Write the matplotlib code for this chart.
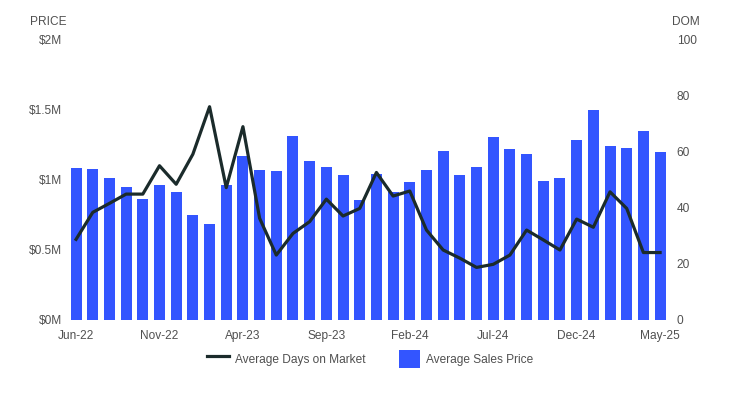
import matplotlib.pyplot as plt
from matplotlib.lines import Line2D
from matplotlib.patches import Patch

plt.rcParams['font.family'] = ['Liberation Sans', 'DejaVu Sans']

months = ['Jun-22', 'Jul-22', 'Aug-22', 'Sep-22', 'Oct-22', 'Nov-22', 'Dec-22', 'Jan-23', 'Feb-23',
          'Mar-23', 'Apr-23', 'May-23', 'Jun-23', 'Jul-23', 'Aug-23', 'Sep-23', 'Oct-23', 'Nov-23',
          'Dec-23', 'Jan-24', 'Feb-24', 'Mar-24', 'Apr-24', 'May-24', 'Jun-24', 'Jul-24', 'Aug-24',
          'Sep-24', 'Oct-24', 'Nov-24', 'Dec-24', 'Jan-25', 'Feb-25', 'Mar-25', 'Apr-25', 'May-25']

# average sales price, $M
price = [1.08, 1.075, 1.01, 0.95, 0.86, 0.96, 0.91, 0.75, 0.68,
         0.96, 1.17, 1.07, 1.06, 1.31, 1.13, 1.09, 1.03, 0.855,
         1.04, 0.91, 0.985, 1.07, 1.20, 1.03, 1.09, 1.30, 1.22,
         1.18, 0.99, 1.01, 1.28, 1.495, 1.24, 1.225, 1.345, 1.195]

# average days on market
dom = [28.7, 38.3, 41.5, 44.8, 44.8, 54.9, 48.3, 59.0, 75.9,
       47.1, 68.8, 36.2, 23.1, 30.8, 35.0, 43.0, 37.0, 39.7,
       52.5, 44.1, 45.9, 32.0, 24.9, 22.0, 18.7, 19.8, 23.1,
       32.0, 28.5, 24.9, 35.9, 33.0, 45.6, 39.7, 24.0, 24.0]

price_ticks = [0, 0.5, 1, 1.5, 2]
price_labels = ['$0M', '$0.5M', '$1M', '$1.5M', '$2M']
dom_ticks = [0, 20, 40, 60, 80, 100]

bar_color = '#3355ff'
line_color = '#1b2b2b'
text_color = '#505050'

fig = plt.figure(figsize=(7.29, 3.96), dpi=100)
ax = fig.add_axes([0.0929, 0.192, 0.824, 0.7095])
ax2 = ax.twinx()

x = list(range(len(months)))
ax.bar(x, price, width=0.66, color=bar_color, zorder=1)
ax2.plot(x, dom, color=line_color, lw=2.3, zorder=3)

ax.set_xlim(-0.5, len(months) - 0.5)
ax.set_ylim(0, 2)
ax2.set_ylim(0, 100)
ax.set_yticks(price_ticks, price_labels)
ax2.set_yticks(dom_ticks)
ax.set_xticks(x[::5], months[::5])

for a in (ax, ax2):
    for s in a.spines.values():
        s.set_visible(False)
    a.tick_params(length=0, labelsize=8.6, colors=text_color)
ax.tick_params(axis='y', pad=4)
ax2.tick_params(axis='y', pad=6)
ax.tick_params(axis='x', pad=7)

fig.text(48 / 729, 1 - 22 / 396, 'PRICE', fontsize=8.6, color=text_color, ha='center', va='center')
fig.text(686 / 729, 1 - 22 / 396, 'DOM', fontsize=8.6, color=text_color, ha='center', va='center')

handles = [Line2D([0], [0], color=line_color, lw=2.3),
           Patch(facecolor=bar_color)]
fig.legend(handles, ['Average Days on Market', 'Average Sales Price'],
           loc='center', bbox_to_anchor=(0.508, 1 - 359 / 396), ncol=2, frameon=False,
           fontsize=8.6, labelcolor=text_color, handlelength=1.8, handleheight=2.0,
           columnspacing=2.8, handletextpad=0.5)

fig.savefig('out.png', dpi=100)
